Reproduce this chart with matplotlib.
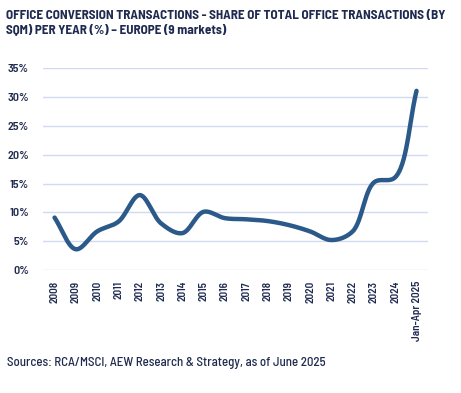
import matplotlib
matplotlib.use("Agg")
import matplotlib.pyplot as plt
import numpy as np
from matplotlib import font_manager

years = ["2008", "2009", "2010", "2011", "2012", "2013", "2014", "2015", "2016",
         "2017", "2018", "2019", "2020", "2021", "2022", "2023", "2024", "Jan-Apr 2025"]
share = [9.1, 3.6, 6.7, 8.4, 13.0, 8.1, 6.4, 10.1, 9.0,
         8.8, 8.5, 7.8, 6.7, 5.2, 6.7, 15.2, 16.1, 31.1]
yticks = [0, 5, 10, 15, 20, 25, 30, 35]

names = {f.name for f in font_manager.fontManager.ttflist}
fam = 'DejaVu Sans'
for cand in ['Barlow Semi Condensed', 'Barlow Condensed', 'Archivo Narrow', 'Roboto Condensed']:
    if cand in names:
        fam = cand
        break
plt.rcParams['font.family'] = [fam, 'DejaVu Sans']

navy = "#1e2a4f"
line_c = "#2b5a8a"
grid_c = "#d3d9f0"

def centripetal_cr(x, y, sx=1.0, sy=1.0, n=30, alpha=0.5):
    P = np.column_stack([np.asarray(x, float) * sx, np.asarray(y, float) * sy])
    P = np.vstack([2 * P[0] - P[1], P, 2 * P[-1] - P[-2]])
    out = []
    for i in range(1, len(P) - 2):
        p0, p1, p2, p3 = P[i - 1], P[i], P[i + 1], P[i + 2]
        t0 = 0.0
        t1 = t0 + np.linalg.norm(p1 - p0) ** alpha
        t2 = t1 + np.linalg.norm(p2 - p1) ** alpha
        t3 = t2 + np.linalg.norm(p3 - p2) ** alpha
        ts = np.linspace(t1, t2, n, endpoint=False)[:, None]
        a1 = (t1 - ts) / (t1 - t0) * p0 + (ts - t0) / (t1 - t0) * p1
        a2 = (t2 - ts) / (t2 - t1) * p1 + (ts - t1) / (t2 - t1) * p2
        a3 = (t3 - ts) / (t3 - t2) * p2 + (ts - t2) / (t3 - t2) * p3
        b1 = (t2 - ts) / (t2 - t0) * a1 + (ts - t0) / (t2 - t0) * a2
        b2 = (t3 - ts) / (t3 - t1) * a2 + (ts - t1) / (t3 - t1) * a3
        c = (t2 - ts) / (t2 - t1) * b1 + (ts - t1) / (t2 - t1) * b2
        out.append(c)
    out.append(P[-2][None, :])
    out = np.vstack(out)
    return out[:, 0] / sx, out[:, 1] / sy

fig = plt.figure(figsize=(4.61, 3.93), dpi=100)
ax = fig.add_axes([0.093, 0.313, 0.835, 0.513])
ax.set_xlim(-0.55, 17.53)
ax.set_ylim(0, 35)

idx = np.arange(len(years))
# pixel scale of axes units for the spline parameterisation
bb = ax.get_position()
px_x = bb.width * 461 / (17.53 + 0.55)
px_y = bb.height * 393 / 35
cx, cy = centripetal_cr(idx, share, px_x, px_y)
ax.plot(cx, cy, color=line_c, lw=3.2, solid_capstyle='round', zorder=3)

ax.set_yticks(yticks)
ax.set_yticklabels([f"{v}%" for v in yticks], fontsize=9, color=navy, fontweight='semibold')
ax.set_xticks(idx)
ax.set_xticklabels(years, rotation=90, fontsize=8.5, color=navy, fontweight='semibold')
ax.tick_params(axis='y', length=0, pad=10)
ax.tick_params(axis='x', length=0, pad=8)
ax.grid(axis='y', color=grid_c, lw=1)
ax.set_axisbelow(True)
for s in ax.spines.values():
    s.set_visible(False)

title = fig.text(0.012, 0.975, "OFFICE CONVERSION TRANSACTIONS - SHARE OF TOTAL OFFICE TRANSACTIONS (BY\nSQM) PER YEAR (%) \u2013 EUROPE (9 markets)",
         ha='left', va='top', fontsize=10, fontweight='bold', color=navy, linespacing=1.25)
src = fig.text(0.015, 0.077, "Sources: RCA/MSCI, AEW Research & Strategy, as of June 2025",
         ha='left', va='center', fontsize=9, color=navy, fontweight='medium')

fig.canvas.draw()
r = fig.canvas.get_renderer()
def fit(t, target):
    w = t.get_window_extent(r).width
    t.set_fontsize(t.get_fontsize() * target / w)
fit(title, 440)
fit(src, 320)
lbl = ax.get_xticklabels()[-1]
h = lbl.get_window_extent(r).height
fs = 8.5 * 60 / h
for l in ax.get_xticklabels():
    l.set_fontsize(fs)
yl = ax.get_yticklabels()[-1]
w = yl.get_window_extent(r).width
yfs = 9 * 21 / w
for l in ax.get_yticklabels():
    l.set_fontsize(yfs)

fig.savefig("out.png", dpi=100)
